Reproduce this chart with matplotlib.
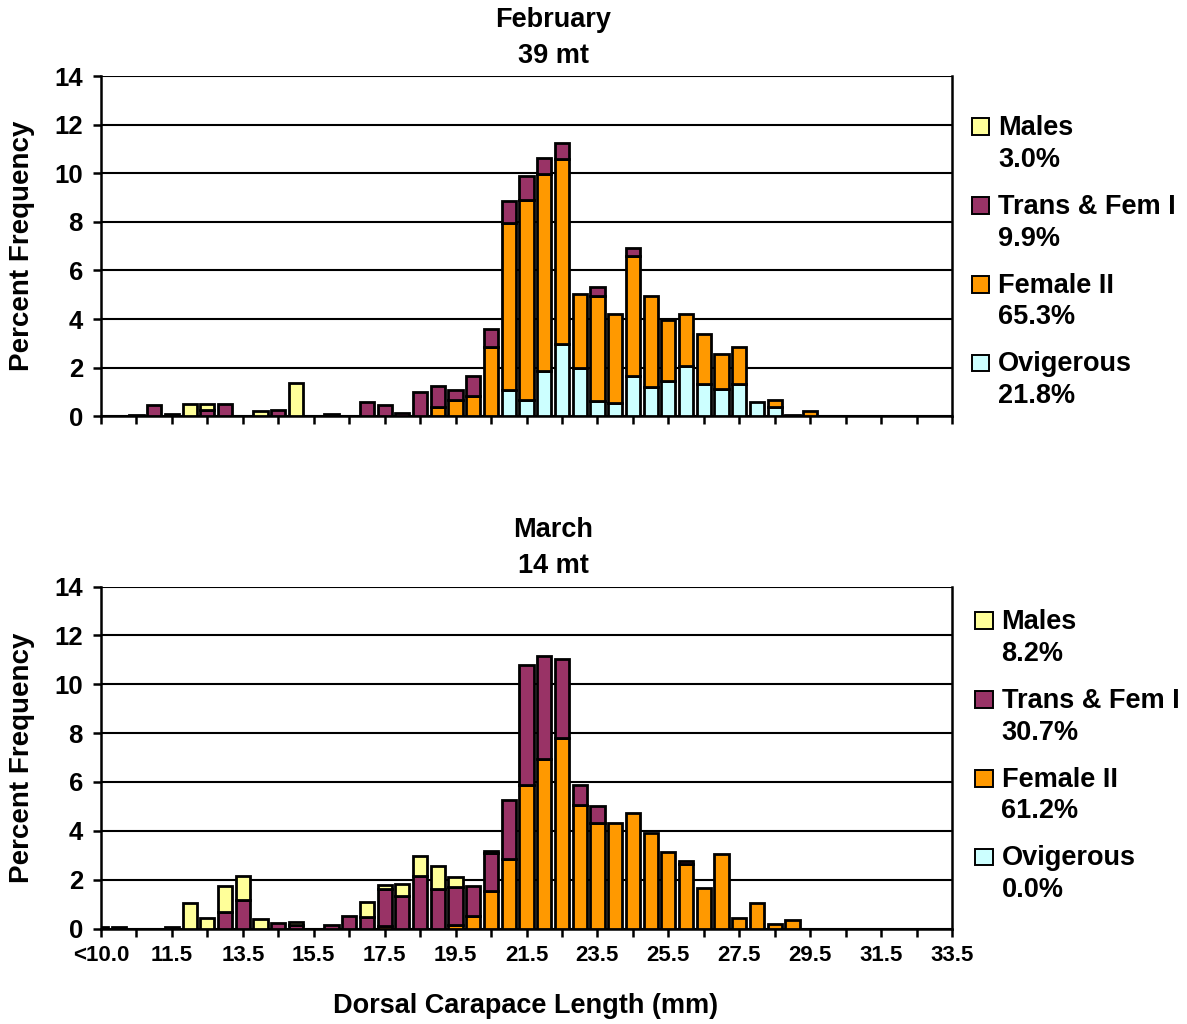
import numpy as np
import matplotlib
matplotlib.use("Agg")
import matplotlib.pyplot as plt
from matplotlib.patches import Rectangle

plt.rcParams['font.family'] = ['Liberation Sans', 'DejaVu Sans']
plt.rcParams['font.weight'] = 'bold'

# size classes (mm), 0.5 mm bins
size_classes = ["<10.0", "10.0", "10.5", "11.0", "11.5", "12.0", "12.5", "13.0", "13.5",
                "14.0", "14.5", "15.0", "15.5", "16.0", "16.5", "17.0", "17.5", "18.0",
                "18.5", "19.0", "19.5", "20.0", "20.5", "21.0", "21.5", "22.0", "22.5",
                "23.0", "23.5", "24.0", "24.5", "25.0", "25.5", "26.0", "26.5", "27.0",
                "27.5", "28.0", "28.5", "29.0", "29.5", "30.0", "30.5", "31.0", "31.5",
                "32.0", "32.5", "33.0", "33.5"]

stages = ["Males", "Trans & Fem I", "Female II", "Ovigerous"]
stage_colors = ["#FFFF99", "#993366", "#FF9900", "#CCFFFF"]

# February, 39 mt
feb_males = [0, 0, 0, 0, 0, 0.50, 0.25, 0, 0, 0.22,
             0, 1.36, 0, 0, 0, 0, 0, 0, 0, 0,
             0, 0, 0, 0, 0, 0, 0, 0, 0, 0,
             0, 0, 0, 0, 0, 0, 0, 0, 0, 0,
             0, 0, 0, 0, 0, 0, 0, 0, 0]
feb_trans = [0, 0.03, 0.04, 0.48, 0.11, 0, 0.24, 0.50, 0, 0,
             0.27, 0, 0, 0.08, 0, 0.58, 0.45, 0.12, 1.02, 0.87,
             0.44, 0.81, 0.73, 0.90, 1.01, 0.65, 0.66, 0, 0.37, 0,
             0.34, 0, 0, 0, 0, 0, 0, 0, 0, 0,
             0, 0, 0, 0, 0, 0, 0, 0, 0]
feb_fem2 = [0, 0, 0, 0, 0, 0, 0, 0, 0, 0,
            0, 0, 0, 0, 0, 0, 0, 0, 0, 0.38,
            0.66, 0.85, 2.85, 6.85, 8.22, 8.12, 7.60, 3.04, 4.32, 3.64,
            4.92, 3.75, 2.51, 2.12, 2.03, 1.44, 1.53, 0, 0.30, 0.05,
            0.22, 0, 0, 0, 0, 0, 0, 0, 0]
feb_ovig = [0, 0, 0, 0, 0, 0, 0, 0, 0, 0,
            0, 0, 0, 0, 0, 0, 0, 0, 0, 0,
            0, 0, 0, 1.10, 0.66, 1.85, 2.99, 2.00, 0.63, 0.55,
            1.66, 1.20, 1.44, 2.07, 1.34, 1.14, 1.32, 0.59, 0.38, 0,
            0, 0, 0, 0, 0, 0, 0, 0, 0]
feb_totals = ["3.0%", "9.9%", "65.3%", "21.8%"]

# March, 14 mt
mar_males = [0, 0, 0, 0, 0.08, 1.06, 0.42, 1.09, 0.98, 0.40,
             0, 0.13, 0, 0, 0, 0.64, 0.18, 0.52, 0.80, 0.95,
             0.41, 0, 0.08, 0, 0, 0, 0, 0, 0, 0,
             0, 0, 0, 0, 0, 0, 0, 0, 0, 0,
             0, 0, 0, 0, 0, 0, 0, 0, 0]
mar_trans = [0.08, 0.08, 0, 0, 0, 0, 0, 0.67, 1.17, 0,
             0.22, 0.15, 0, 0.13, 0.52, 0.46, 1.48, 1.32, 2.16, 1.60,
             1.56, 1.23, 1.55, 2.44, 4.89, 4.23, 3.24, 0.84, 0.70, 0,
             0, 0, 0, 0.12, 0, 0, 0, 0, 0, 0,
             0, 0, 0, 0, 0, 0, 0, 0, 0]
mar_fem2 = [0, 0, 0, 0, 0, 0, 0, 0, 0, 0,
            0, 0, 0, 0, 0, 0, 0.12, 0, 0, 0,
            0.14, 0.50, 1.53, 2.84, 5.89, 6.93, 7.78, 5.05, 4.32, 4.30,
            4.71, 3.92, 3.14, 2.65, 1.64, 3.03, 0.44, 1.06, 0.18, 0.34,
            0, 0, 0, 0, 0, 0, 0, 0, 0]
mar_ovig = [0, 0, 0, 0, 0, 0, 0, 0, 0, 0,
            0, 0, 0, 0, 0, 0, 0, 0, 0, 0,
            0, 0, 0, 0, 0, 0, 0, 0, 0, 0,
            0, 0, 0, 0, 0, 0, 0, 0, 0, 0,
            0, 0, 0, 0, 0, 0, 0, 0, 0]
mar_totals = ["8.2%", "30.7%", "61.2%", "0.0%"]

W, H = 1187, 1024
fig = plt.figure(figsize=(W / 100, H / 100), dpi=100)


def px(x, y):
    return x / W, 1 - y / H


def draw_panel(ax_rect, series, title, subtitle, totals, title_y, legend_y0, legend_x0,
               show_labels):
    ax = fig.add_axes(ax_rect)
    x = np.arange(len(size_classes))
    bottom = np.zeros(len(size_classes))
    # stacked from the bottom: Ovigerous, Female II, Trans & Fem I, Males
    for vals, col in zip(series[::-1], stage_colors[::-1]):
        vals = np.asarray(vals, dtype=float)
        mask = vals > 0
        ax.bar(x[mask], vals[mask], bottom=bottom[mask], width=0.8, color=col,
               edgecolor="black", linewidth=2.0, zorder=3)
        bottom += vals

    ax.set_xlim(0, len(size_classes) - 1)
    ax.set_ylim(0, 14)
    ax.set_yticks(np.arange(0, 15, 2))
    ax.yaxis.grid(True, color="black", linewidth=1.5)
    ax.set_axisbelow(True)
    for s in ax.spines.values():
        s.set_linewidth(1.8)
    ax.spines["top"].set_visible(False)

    ax.set_xticks(np.arange(0, len(size_classes), 4))
    ax.set_xticks(np.arange(2, len(size_classes), 4), minor=True)
    if show_labels:
        ax.set_xticklabels(size_classes[::4], fontsize=16, fontweight="bold")
    else:
        ax.set_xticklabels([])
    ax.tick_params(axis="x", which="both", direction="out", length=6, width=1.8, pad=6)
    ax.tick_params(axis="y", direction="out", length=6, width=1.8, pad=7, labelsize=18.5)
    for lab in ax.get_yticklabels():
        lab.set_fontweight("bold")

    cx = 553 / W
    fig.text(cx, px(0, title_y)[1], title, ha="center", va="center", fontsize=19.5,
             fontweight="bold")
    fig.text(cx, px(0, title_y + 36)[1], subtitle, ha="center", va="center", fontsize=19.5,
             fontweight="bold")

    y_mid = ax_rect[1] + ax_rect[3] / 2
    fig.text(22 / W, y_mid, "Percent Frequency", rotation=90, ha="center", va="center",
             fontsize=20, fontweight="bold")

    # legend: square swatch plus two lines of text per stage
    for i, (name, col, tot) in enumerate(zip(stages, stage_colors, totals)):
        base = legend_y0 + i * 78.8
        sx, sy = px(legend_x0, base)
        fig.patches.append(Rectangle((sx, sy), 17.6 / W, 16.7 / H, facecolor=col,
                                     edgecolor="black", linewidth=1.4,
                                     transform=fig.transFigure, figure=fig))
        tx = (legend_x0 + 26.5) / W
        fig.text(tx, sy, name, ha="left", va="baseline", fontsize=19.5, fontweight="bold")
        fig.text(tx, px(0, base + 31.7)[1], tot, ha="left", va="baseline", fontsize=19.5,
                 fontweight="bold")
    return ax


draw_panel([101 / W, 1 - 416.3 / H, 851 / W, 340.3 / H],
           [feb_males, feb_trans, feb_fem2, feb_ovig], "February", "39 mt", feb_totals,
           title_y=20, legend_y0=135, legend_x0=971.7, show_labels=False)
draw_panel([101 / W, 1 - 928.5 / H, 851 / W, 342 / H],
           [mar_males, mar_trans, mar_fem2, mar_ovig], "March", "14 mt", mar_totals,
           title_y=530, legend_y0=629, legend_x0=975, show_labels=True)

fig.text(525.5 / W, 1 - 1006 / H, "Dorsal Carapace Length (mm)", ha="center", va="center",
         fontsize=19.5, fontweight="bold")

fig.savefig("out.png", dpi=100)
